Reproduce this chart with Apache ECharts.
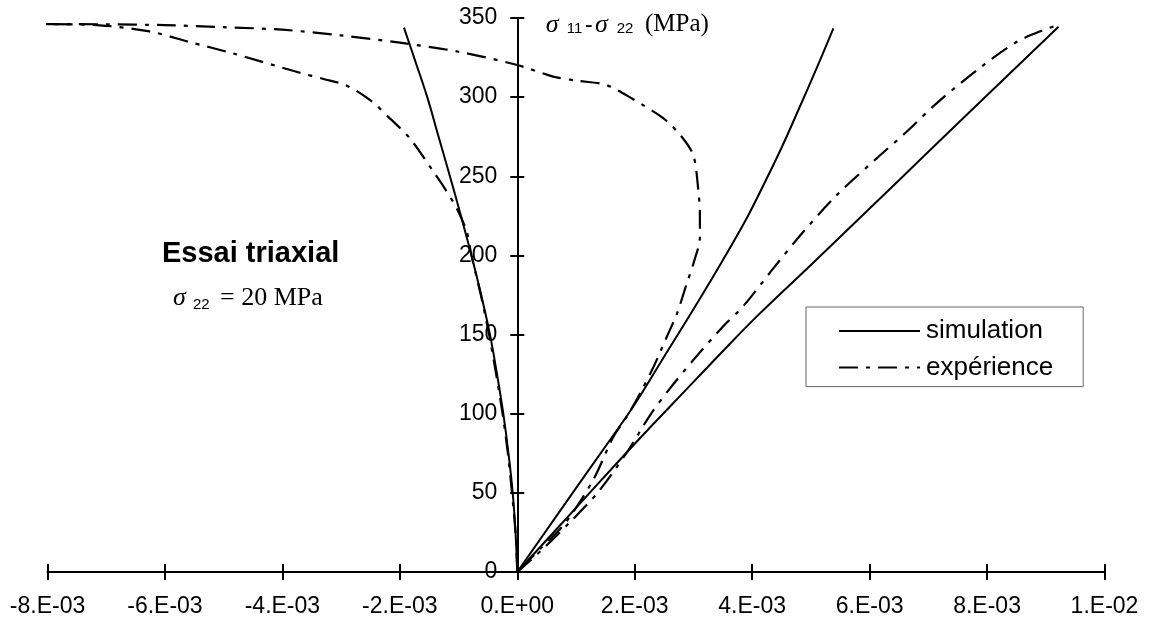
<!DOCTYPE html>
<html><head><meta charset="utf-8">
<script src="https://cdn.jsdelivr.net/npm/echarts@6/dist/echarts.min.js"></script>
<style>html,body{margin:0;padding:0;background:#fff}#c{width:1149px;height:623px}</style>
</head><body><div id="c"></div>
<script>
// strain values in units of 1e-3, stress in MPa
const X_MIN = -8, X_MAX = 10, X_STEP = 2;
const Y_MIN = 0, Y_MAX = 350, Y_STEP = 50;
const xTickLabels = ['-8.E-03','-6.E-03','-4.E-03','-2.E-03','0.E+00','2.E-03','4.E-03','6.E-03','8.E-03','1.E-02'];

// simulation – lateral strain
const simLatX = [0, -0.03, -0.078, -0.15, -0.238, -0.345, -0.465, -0.615, -0.78, -0.96, -1.147, -1.34, -1.533, -1.73, -1.93];
const simLatY = [0, 25, 50, 75, 100, 125, 150, 175, 200, 225, 250, 275, 300, 322, 343.9];
// simulation – axial strain
const simAxX = [0, 1.0, 1.95, 3.03, 3.5, 4.08, 5.0, 6.0, 7.0, 8.0, 9.217];
const simAxY = [0, 40.5, 79, 121.2, 139.5, 161.5, 194, 229.6, 265.5, 301.2, 344.5];
// simulation – volumetric strain
const simVolX = [0, 1.0, 1.6, 2.0, 2.5, 3.0, 3.5, 3.9, 4.2, 4.5, 4.8, 5.1, 5.383];
const simVolY = [0, 53, 84.5, 106, 136, 166, 197, 223, 245, 268, 293, 318.5, 343.5];

// experiment – axial strain
const expAxX = [0, 0.47, 0.93, 1.38, 1.89, 2.26, 2.6, 3.0, 3.5, 3.85, 4.36, 4.85, 5.44, 6.12, 6.63, 7.14, 7.94, 8.51, 8.96, 9.217];
const expAxY = [0, 15.8, 32.7, 50.6, 76.9, 99, 116, 134, 155, 168, 191.8, 214, 238.1, 261.3, 278.1, 296.1, 320.3, 335.0, 342.4, 345.6];
// experiment – lateral strain
const expLatX = [0, -0.03, -0.09, -0.16, -0.25, -0.36, -0.48, -0.62, -0.78, -0.86, -1.03, -1.23, -1.43, -1.83, -2.17, -2.5, -2.91, -3.3, -3.70, -4.84, -5.6, -6.26, -7.11, -8.13];
const expLatY = [0, 25, 50, 75, 100, 125, 150, 175, 200, 214.9, 229.7, 242, 253, 274, 286.6, 298, 307.4, 311.5, 315.4, 327.6, 335, 341.5, 345.4, 346.2];
// experiment – volumetric strain
const expVolX = [-8.13, -7.0, -6.0, -5.0, -4.0, -3.0, -2.0, -1.0, 0, 0.61, 1.0, 1.52, 1.98, 2.49, 2.8, 3.0, 3.08, 3.11, 3.11, 3.0, 2.886, 2.72, 2.545, 2.32, 2.09, 1.864, 1.635, 1.29, 0.81, 0.42, 0];
const expVolY = [346.2, 346.0, 345.5, 344.2, 342.6, 339.0, 334.4, 328.7, 320.3, 313, 310.5, 307.6, 298.5, 286.6, 275, 263, 242.3, 225.5, 211.8, 194.9, 182.3, 163.3, 148.5, 129.6, 112.8, 98, 85.3, 58, 30.6, 15.8, 0];

const SIM = 'simulation', EXP = 'expérience';
const SANS = 'Liberation Sans, Arial, sans-serif';
const SERIF = 'Liberation Serif, Times New Roman, serif';
const zip = (xs, ys) => xs.map((x, i) => [x, ys[i]]);
const simStyle = { color: '#000', width: 2, type: 'solid' };
const expStyle = { color: '#000', width: 2.2, type: [19, 8, 4, 8] };
function mk(name, xs, ys, style, smooth) {
  return { name, type: 'line', data: zip(xs, ys), symbol: 'none', showSymbol: false, clip: false,
    smooth, color: '#000', lineStyle: style, xAxisIndex: 0, yAxisIndex: 0, silent: true, z: 3 };
}

const xBase = { type: 'value', min: X_MIN, max: X_MAX, interval: X_STEP, position: 'bottom',
  splitLine: { show: false } };
const yBase = { type: 'value', min: Y_MIN, max: Y_MAX, interval: Y_STEP, position: 'left',
  splitLine: { show: false } };

const chart = echarts.init(document.getElementById('c'), null, { renderer: 'canvas' });
chart.setOption({
  animation: false,
  backgroundColor: '#fff',
  grid: { left: 47.5, right: 44.5, top: 18, bottom: 51, containLabel: false, outerBoundsMode: 'none' },
  xAxis: [
    Object.assign({}, xBase, {
      axisLine: { show: true, onZero: false, lineStyle: { color: '#000', width: 2 } },
      axisTick: { show: true, inside: false, length: 8, lineStyle: { color: '#000', width: 2 } },
      axisLabel: { show: true, margin: 23, color: '#000', fontFamily: SANS, fontSize: 23,
        formatter: v => xTickLabels[Math.round((v - X_MIN) / X_STEP)] }
    }),
    Object.assign({}, xBase, {
      axisLine: { show: false, onZero: false },
      axisTick: { show: true, inside: true, length: 8, lineStyle: { color: '#000', width: 2 } },
      axisLabel: { show: false }
    })
  ],
  yAxis: [
    Object.assign({}, yBase, {
      axisLine: { show: true, onZero: false, lineStyle: { color: '#000', width: 2 } },
      axisTick: { show: true, inside: false, length: 7, lineStyle: { color: '#000', width: 2 } },
      axisLabel: { show: true, margin: 20, color: '#000', fontFamily: SANS, fontSize: 23 }
    }),
    Object.assign({}, yBase, {
      axisLine: { show: false, onZero: false },
      axisTick: { show: true, inside: true, length: 7, lineStyle: { color: '#000', width: 2 } },
      axisLabel: { show: false }
    })
  ],
  legend: {
    data: [SIM, EXP], orient: 'vertical', left: 806, top: 307,
    padding: [11, 30, 6, 32], itemWidth: 81, itemHeight: 14, itemGap: 10.6,
    borderColor: '#666', borderWidth: 1, backgroundColor: '#fff',
    itemStyle: { opacity: 0 },
    textStyle: { color: '#000', fontFamily: SANS, fontSize: 26, padding: [0, 0, 0, 1] },
    selectedMode: false
  },
  series: [
    mk(SIM, simLatX, simLatY, simStyle, 0.4),
    mk(SIM, simAxX, simAxY, simStyle, 0.4),
    mk(SIM, simVolX, simVolY, simStyle, 0.4),
    mk(EXP, expLatX, expLatY, expStyle, 0.3),
    mk(EXP, expAxX, expAxY, expStyle, 0.3),
    mk(EXP, expVolX, expVolY, expStyle, 0.3)
  ],
  graphic: [
    { type: 'text', left: 545.7, top: 12, style: { text: 'σ', font: 'italic 26px ' + SERIF, fill: '#000' } },
    { type: 'text', left: 566.7, top: 21, style: { text: '11', font: '15px ' + SANS, fill: '#000' } },
    { type: 'text', left: 585, top: 14, style: { text: '-', font: '23px ' + SANS, fill: '#000' } },
    { type: 'text', left: 595, top: 12, style: { text: 'σ', font: 'italic 26px ' + SERIF, fill: '#000' } },
    { type: 'text', left: 616.7, top: 21, style: { text: '22', font: '15px ' + SANS, fill: '#000' } },
    { type: 'text', left: 645, top: 12, style: { text: '(MPa)', font: '25px ' + SERIF, fill: '#000' } },
    { type: 'text', left: 162, top: 239, style: { text: 'Essai triaxial', font: 'bold 29px ' + SANS, fill: '#000' } },
    { type: 'text', left: 173, top: 285, style: { text: 'σ', font: 'italic 26px ' + SERIF, fill: '#000' } },
    { type: 'text', left: 193, top: 297, style: { text: '22', font: '15px ' + SANS, fill: '#000' } },
    { type: 'text', left: 220, top: 285, style: { text: '= 20 MPa', font: '26px ' + SERIF, fill: '#000' } }
  ]
});
// move the vertical axis (line, ticks and labels) to x = 0 using the x scale
const pxZero = chart.convertToPixel({ xAxisIndex: 0 }, 0);
const pxLeft = chart.convertToPixel({ xAxisIndex: 0 }, X_MIN);
const yOff = -(pxZero - pxLeft);
chart.setOption({ yAxis: [{ offset: yOff }, { offset: yOff }] });
</script>
</body></html>
